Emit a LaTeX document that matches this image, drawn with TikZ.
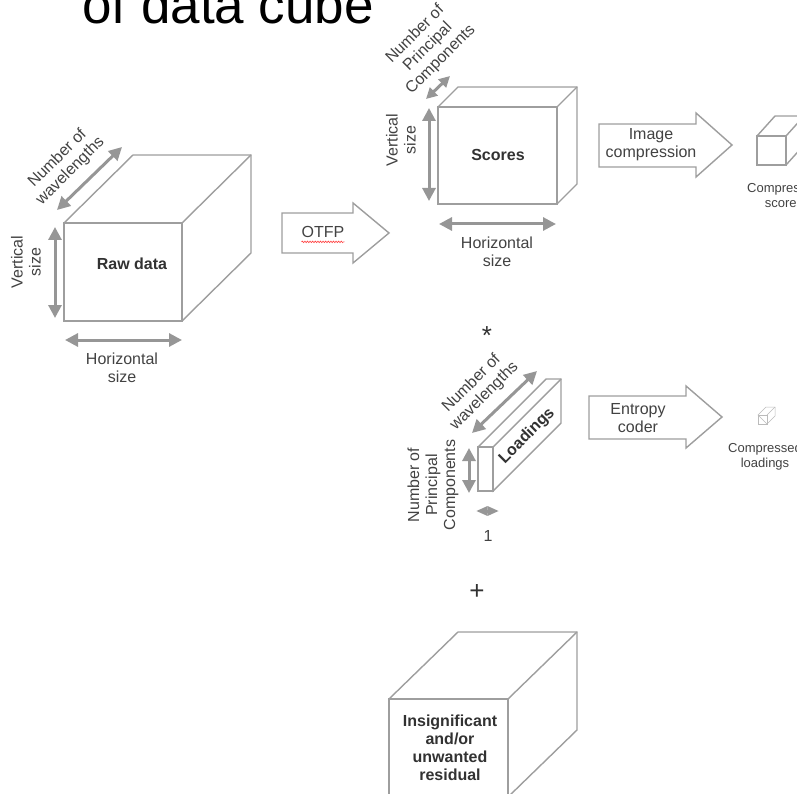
\documentclass[tikz,border=0pt]{standalone}
\usepackage{fontspec}
\setmainfont{Liberation Sans}
\usepackage{xcolor}
\usetikzlibrary{arrows.meta}
\usetikzlibrary{decorations.pathmorphing}
\definecolor{cubegrey}{RGB}{158,158,158}
\definecolor{dimgrey}{RGB}{150,150,150}
\definecolor{txtgrey}{RGB}{66,66,66}
\definecolor{boldgrey}{RGB}{50,50,50}

\begin{document}
\begin{tikzpicture}[x=1pt,y=-1pt,
 edge/.style={draw=cubegrey,line width=1.4pt,line join=miter,fill=white},
 dim/.style={draw=dimgrey,line width=3pt,{Triangle[length=13pt,width=13pt]}-{Triangle[length=13pt,width=13pt]}},
 lbl/.style={text=txtgrey,font=\fontsize{16}{18}\selectfont,align=center,inner sep=0pt},
 boldlbl/.style={text=boldgrey,font=\bfseries\fontsize{16}{18}\selectfont,align=center,inner sep=0pt},
 smalllbl/.style={text=txtgrey,font=\fontsize{13}{15}\selectfont,align=center,inner sep=0pt}]

\useasboundingbox (0,0) rectangle (797,794);

\node at (82,24) [anchor=base west,font=\fontsize{53}{60}\selectfont,inner sep=0pt] (title) {of data cube};

% raw data cube
\draw[edge] (64,223) -- (133,155) -- (251,155) -- (251,253) -- (182,321) -- cycle;
\draw[edge] (64,223) rectangle (182,321);
\draw[edge] (182,223) -- (251,155);
\node at (132,264) [boldlbl] (raw) {Raw data};

\coordinate (rawv1) at (55,227);
\coordinate (rawv2) at (55,318);
\coordinate (rawh1) at (65,340);
\coordinate (rawh2) at (182,340);
\coordinate (rawd1) at (57,210);
\coordinate (rawd2) at (122,147);
\draw[dim] (rawv1)--(rawv2);
\draw[dim] (rawh1)--(rawh2);
\draw[dim] (rawd1)--(rawd2);
\node at (26,262) [lbl,rotate=90] (rawvert) {Vertical\\size};
\node at (122,368) [lbl] (rawhor) {Horizontal\\size};
\node at (64,165) [lbl,rotate=45] (rawwave) {Number of\\wavelengths};

% OTFP arrow
\draw[edge] (282,213) -- (353,213) -- (353,203) -- (389,233) -- (353,263) -- (353,253) -- (282,253) -- cycle;
\node at (323,232) [lbl] (otfp) {OTFP};
\draw[red!75,line width=0.6pt,decorate,decoration={snake,amplitude=0.8pt,segment length=2.6pt}]
 ([yshift=-4pt]otfp.south west) -- ([yshift=-4pt]otfp.south east);

% scores cube
\draw[edge] (438,107) -- (458,87) -- (577,87) -- (577,184) -- (557,204) -- cycle;
\draw[edge] (438,107) rectangle (557,204);
\draw[edge] (557,107) -- (577,87);
\node at (498,155) [boldlbl] (scores) {Scores};

\coordinate (scv1) at (429,108);
\coordinate (scv2) at (429,201);
\coordinate (sch1) at (439,224);
\coordinate (sch2) at (556,224);
\coordinate (scd1) at (426,99);
\coordinate (scd2) at (450,76);
\draw[dim] (scv1)--(scv2);
\draw[dim] (sch1)--(sch2);
\draw[dim,{Triangle[length=11pt,width=11pt]}-{Triangle[length=11pt,width=11pt]}] (scd1)--(scd2);
\node at (401,140) [lbl,rotate=90] (scvert) {Vertical\\size};
\node at (497,252) [lbl] (schor) {Horizontal\\size};
\node at (428,47) [lbl,rotate=45] (scpc) {Number of\\Principal\\Components};

% image compression arrow
\draw[edge] (599,124) -- (696,124) -- (696,113) -- (732,145) -- (696,177) -- (696,167) -- (599,167) -- cycle;
\node at (651,145) [lbl] (imgcomp) {Image\\compression};

\draw[edge] (757,136) -- (775,116) -- (804,116) -- (804,145) -- (786,165) -- cycle;
\draw[edge] (757,136) rectangle (786,165);
\draw[edge] (786,136) -- (804,116);
\node at (784,195) [smalllbl] (cscores) {Compressed\\scores};

\node at (487,336) [text=boldgrey,font=\fontsize{26}{28}\selectfont,inner sep=0pt] (times) {*};

% loadings
\draw[edge] (478,447) -- (546,379) -- (561,379) -- (561,423) -- (493,491) -- cycle;
\draw[edge] (478,447) rectangle (493,491);
\draw[edge] (493,447) -- (561,379);
\node at (527,436) [boldlbl,rotate=45] (load) {Loadings};

\coordinate (ldv1) at (469,448);
\coordinate (ldv2) at (469,493);
\coordinate (ldh1) at (476,511);
\coordinate (ldh2) at (499,511);
\coordinate (ldd1) at (472,433);
\coordinate (ldd2) at (537,371);
\draw[dim] (ldv1)--(ldv2);
\draw[dim,{Triangle[length=11.5pt,width=9pt]}-{Triangle[length=11.5pt,width=9pt]}] (ldh1)--(ldh2);
\draw[dim] (ldd1)--(ldd2);
\node at (433,485) [lbl,rotate=90] (ldpc) {Number of\\Principal\\Components};
\node at (488,536) [lbl] (one) {1};
\node at (478,390) [lbl,rotate=45] (ldwave) {Number of\\wavelengths};

% entropy coder arrow
\draw[edge] (589,396) -- (686,396) -- (686,386) -- (722,417) -- (686,448) -- (686,439) -- (589,439) -- cycle;
\node at (638,418) [lbl] (entropy) {Entropy\\coder};

\draw[draw=cubegrey!70,line width=0.5pt,fill=white] (758,415) -- (766,407) -- (775,407) -- (775,416) -- (767,424) -- cycle;
\draw[draw=cubegrey!70,line width=0.5pt] (758,415) rectangle (767,424);
\draw[draw=cubegrey!70,line width=0.5pt] (767,415) -- (775,407);
\node at (765,457) [smalllbl] (cload) {Compressed\\loadings};

\node at (477,592) [text=boldgrey,font=\fontsize{26}{28}\selectfont,inner sep=0pt] (plus) {+};

% residual cube
\draw[edge] (389,699) -- (458,632) -- (577,632) -- (577,730) -- (508,797) -- cycle;
\draw[edge] (389,699) rectangle (508,797);
\draw[edge] (508,699) -- (577,632);
\node at (450,748) [boldlbl] (resid) {Insignificant\\and/or\\unwanted\\residual};

\end{tikzpicture}
\end{document}
